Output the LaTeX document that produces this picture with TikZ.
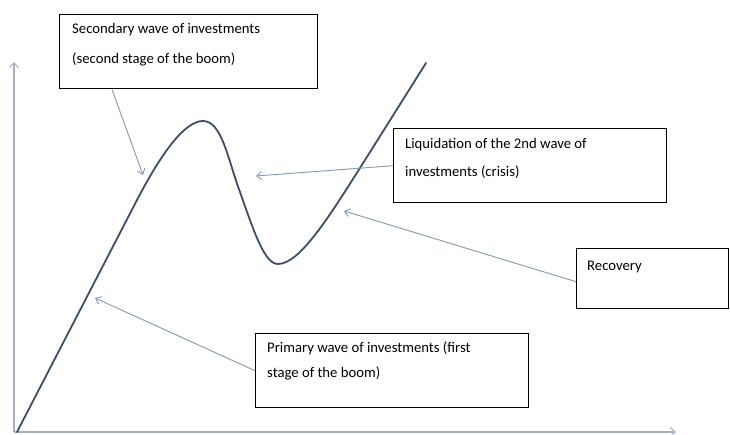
\documentclass[tikz,border=0pt]{standalone}
\usepackage{fontspec}
\setmainfont{Carlito}
\usetikzlibrary{arrows.meta}
\definecolor{axiscol}{HTML}{A3B0C2}
\definecolor{curvecol}{HTML}{3E4D68}
\definecolor{arrcol}{HTML}{8496B0}
\tikzset{
  box/.style={draw=black, line width=1.4pt, rectangle, inner sep=0pt, anchor=north west},
  txt/.style={inner sep=0pt, anchor=west, font=\fontsize{14.7}{27}\selectfont, text=black},
  pointer/.style={draw=arrcol, line width=0.9pt, -{Straight Barb[length=5pt,width=8pt,line width=0.9pt]}},
  axis/.style={draw=axiscol, line width=1.5pt, -{Straight Barb[length=5pt,width=9pt,line width=1pt]}},
  curve/.style={draw=curvecol, line width=1.8pt, line cap=round, line join=round}
}
\begin{document}
\begin{tikzpicture}[x=1pt,y=-1pt]
\useasboundingbox (0,0) rectangle (730,435);
% axes
\coordinate (o) at (14,432);
\coordinate (ytip) at (14,62);
\coordinate (xtip) at (676,432);
\draw[axis] (o) -- (ytip);
\draw[axis] (o) -- (xtip);
% curve
\draw[curve] (17,432) -- (137,200)
  .. controls (162,152) and (185,121) .. (203,121)
  .. controls (222,121) and (228,160) .. (240,192)
  .. controls (255,235) and (265,264) .. (278,264)
  .. controls (300,264) and (330,215) .. (360,168)
  -- (426,63);
% targets on curve
\coordinate (p1) at (143,175);
\coordinate (p2) at (256,176);
\coordinate (p3) at (344,211);
\coordinate (p4) at (95,298);
% boxes
\node[box, minimum width=258pt, minimum height=74pt] (b1) at (59,14) {};
\node[box, minimum width=273pt, minimum height=74pt] (b2) at (393,128) {};
\node[box, minimum width=152pt, minimum height=60pt] (b3) at (576,248) {};
\node[box, minimum width=273pt, minimum height=74pt] (b4) at (255,333) {};
% texts
\node[txt] (t1a) at (72,30) {Secondary wave of investments};
\node[txt] (t1b) at (72,59) {(second stage of the boom)};
\node[txt] (t2a) at (405,145) {Liquidation of the 2nd wave of};
\node[txt] (t2b) at (405,172) {investments (crisis)};
\node[txt] (t3) at (587,267) {Recovery};
\node[txt] (t4a) at (267,348) {Primary wave of investments (first};
\node[txt] (t4b) at (267,373) {stage of the boom)};
% pointers
\draw[pointer] ([xshift=53pt]b1.south west) -- (p1);
\draw[pointer] (b2.west) -- (p2);
\draw[pointer] ([yshift=-3pt]b3.west) -- (p3);
\draw[pointer] (b4.west) -- (p4);
\end{tikzpicture}
\end{document}
